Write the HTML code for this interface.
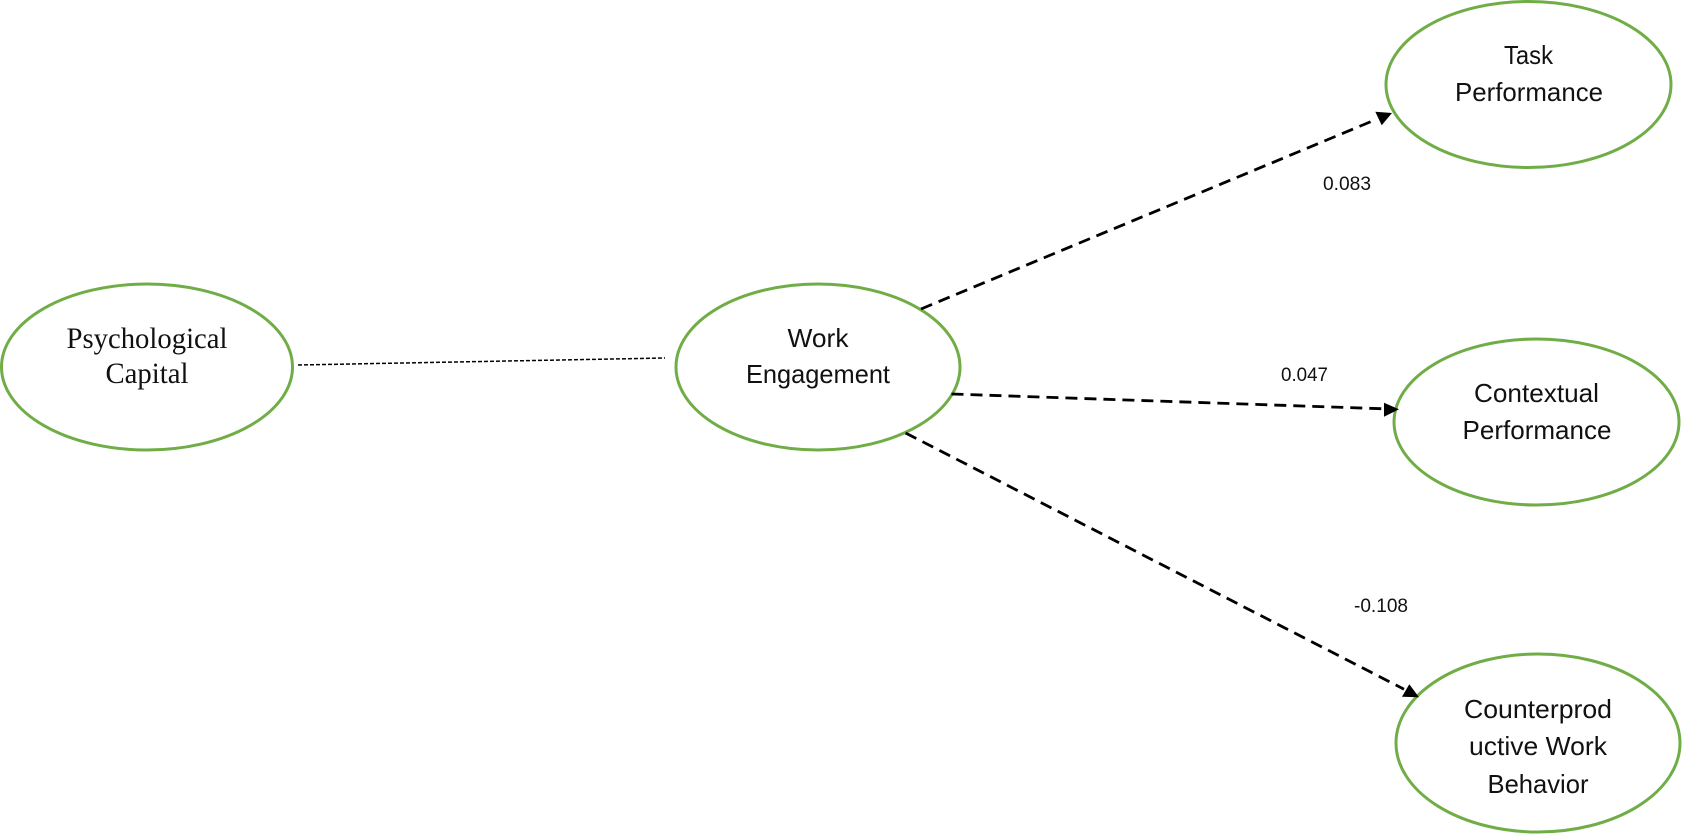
<!DOCTYPE html>
<html>
<head>
<meta charset="utf-8">
<style>
html,body{margin:0;padding:0;background:#fff;width:1682px;height:834px;overflow:hidden}
svg{display:block}
.s{font-family:"Liberation Sans",sans-serif;font-size:26px;fill:#111;text-anchor:middle}
.t{font-family:"Liberation Serif",serif;font-size:30px;fill:#111;text-anchor:middle}
.n{font-family:"Liberation Sans",sans-serif;font-size:19px;fill:#111}
</style>
</head>
<body>
<svg width="1682" height="834" viewBox="0 0 1682 834" xmlns="http://www.w3.org/2000/svg">
<rect width="1682" height="834" fill="#fff"/>
<g fill="none" stroke="#70ad47" stroke-width="3">
<ellipse cx="147" cy="367" rx="145.500" ry="83"/>
<ellipse cx="818" cy="367" rx="142" ry="83"/>
<ellipse cx="1528.500" cy="84.500" rx="142.500" ry="83"/>
<ellipse cx="1536.500" cy="422" rx="142.500" ry="83"/>
<ellipse cx="1538" cy="743" rx="142" ry="89"/>
</g>
<g fill="none" stroke="#000">
<line x1="298" y1="365" x2="665" y2="358" stroke-width="1.500" stroke-dasharray="4 2"/>
<g stroke-width="2.800" stroke-dasharray="12 7">
<line x1="921" y1="309" x2="1376" y2="119.500"/>
<line x1="951.500" y1="394" x2="1384" y2="408.800"/>
<line x1="905.600" y1="433" x2="1404" y2="689.200"/>
</g>
</g>
<g fill="#000">
<polygon points="1392,113 1381.700,125.300 1375.300,111.700"/>
<polygon points="1399,409.300 1384,416.700 1384,402.700"/>
<polygon points="1419,697.300 1402,696.700 1409.300,684.300"/>
</g>
<text class="t" x="147" y="348" textLength="161" lengthAdjust="spacingAndGlyphs">Psychological</text>
<text class="t" x="147" y="383" textLength="83" lengthAdjust="spacingAndGlyphs">Capital</text>
<text class="s" x="818" y="347" textLength="61" lengthAdjust="spacingAndGlyphs">Work</text>
<text class="s" x="818" y="383" textLength="144" lengthAdjust="spacingAndGlyphs">Engagement</text>
<text class="s" x="1528.500" y="64" textLength="49" lengthAdjust="spacingAndGlyphs">Task</text>
<text class="s" x="1529" y="101" textLength="148" lengthAdjust="spacingAndGlyphs">Performance</text>
<text class="s" x="1536.500" y="402" textLength="125" lengthAdjust="spacingAndGlyphs">Contextual</text>
<text class="s" x="1537" y="439" textLength="149" lengthAdjust="spacingAndGlyphs">Performance</text>
<text class="s" x="1538" y="718" textLength="148" lengthAdjust="spacingAndGlyphs">Counterprod</text>
<text class="s" x="1538" y="755" textLength="138" lengthAdjust="spacingAndGlyphs">uctive Work</text>
<text class="s" x="1538" y="793" textLength="101" lengthAdjust="spacingAndGlyphs">Behavior</text>
<text class="n" x="1323" y="190" textLength="48" lengthAdjust="spacingAndGlyphs">0.083</text>
<text class="n" x="1281" y="381" textLength="47" lengthAdjust="spacingAndGlyphs">0.047</text>
<text class="n" x="1354" y="612" textLength="54" lengthAdjust="spacingAndGlyphs">-0.108</text>
</svg>
</body>
</html>
